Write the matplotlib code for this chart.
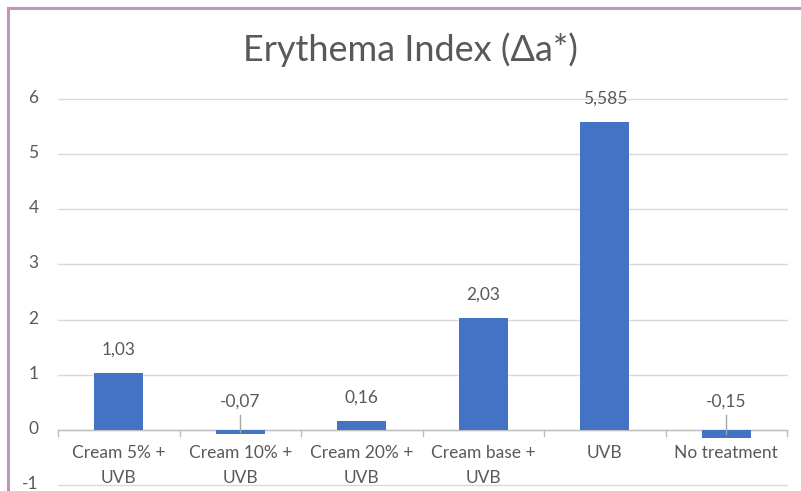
import matplotlib
matplotlib.use("Agg")
import matplotlib.pyplot as plt
from matplotlib.lines import Line2D
from matplotlib.transforms import ScaledTranslation

categories = ["Cream 5% +\nUVB", "Cream 10% +\nUVB", "Cream 20% +\nUVB",
              "Cream base +\nUVB", "UVB", "No treatment"]
values = [1.03, -0.07, 0.16, 2.03, 5.585, -0.15]
value_labels = ["1,03", "-0,07", "0,16", "2,03", "5,585", "-0,15"]
yticks = [-1, 0, 1, 2, 3, 4, 5, 6]

plt.rcParams["font.family"] = ["Lato", "DejaVu Sans"]
TXT = "#595959"
FS = 12.5

W, H = 801, 491
fig = plt.figure(figsize=(W / 100, H / 100), dpi=100)
fig.patch.set_facecolor("white")

# frame of the chart area (left and top edges visible)
border = "#c495b8"
fig.add_artist(Line2D([8 / W, 8 / W], [0, 1 - 8 / H], color=border, lw=2.2,
                      transform=fig.transFigure))
fig.add_artist(Line2D([8 / W, 1], [1 - 8 / H, 1 - 8 / H], color=border, lw=2.2,
                      transform=fig.transFigure))

left, right = 58 / W, 787 / W
top_px = 99
ax = fig.add_axes([left, 0, right - left, 1 - top_px / H])
px_per_unit = (485 - 99) / 7.0
ymin = 6 - (H - top_px) / px_per_unit
ax.set_ylim(ymin, 6)
ax.set_xlim(-0.5, len(categories) - 0.5)

for s in ax.spines.values():
    s.set_visible(False)

ax.set_yticks(yticks)
ax.set_yticklabels([str(t) for t in yticks], color=TXT, fontsize=FS)
ax.tick_params(axis="y", length=0, pad=14)
shift = ScaledTranslation(0, 2.5 / 100, fig.dpi_scale_trans)
for lbl in ax.get_yticklabels():
    lbl.set_transform(lbl.get_transform() + shift)
for t in yticks:
    ax.axhline(t, color="#d9d9d9", lw=1.0, zorder=0, clip_on=False)
ax.axhline(0, color="#bfbfbf", lw=1.0, zorder=1)

x = list(range(len(categories)))
ax.bar(x, values, width=0.4, color="#4472c4", zorder=2)

# category labels below the zero line
ax.set_xticks([])
for xi, cat in zip(x, categories):
    for k, line in enumerate(cat.split("\n")):
        ax.text(xi, -(23 + 25 * k) / px_per_unit, line, ha="center", va="center",
                color=TXT, fontsize=FS)

# category boundary tick marks below the zero line
for b in range(len(categories) + 1):
    ax.plot([b - 0.5, b - 0.5], [0, -6 / px_per_unit], color="#bfbfbf", lw=1.0,
            clip_on=False, zorder=1)

for xi, v, lab in zip(x, values, value_labels):
    if v >= 0:
        ax.text(xi, v + 23 / px_per_unit, lab, ha="center", va="center",
                color=TXT, fontsize=FS)
    else:
        ly = 28 / px_per_unit
        ax.text(xi, ly, lab, ha="center", va="center", color=TXT, fontsize=FS)
        ax.plot([xi, xi], [v / 2, 15 / px_per_unit], color="#a6a6a6", lw=1.0, zorder=3)

fig.text(410 / W, 1 - 50 / H, "Erythema Index (\u0394a*)", ha="center", va="center",
         color=TXT, fontsize=26)

fig.savefig("out.png", dpi=100, facecolor="white")
